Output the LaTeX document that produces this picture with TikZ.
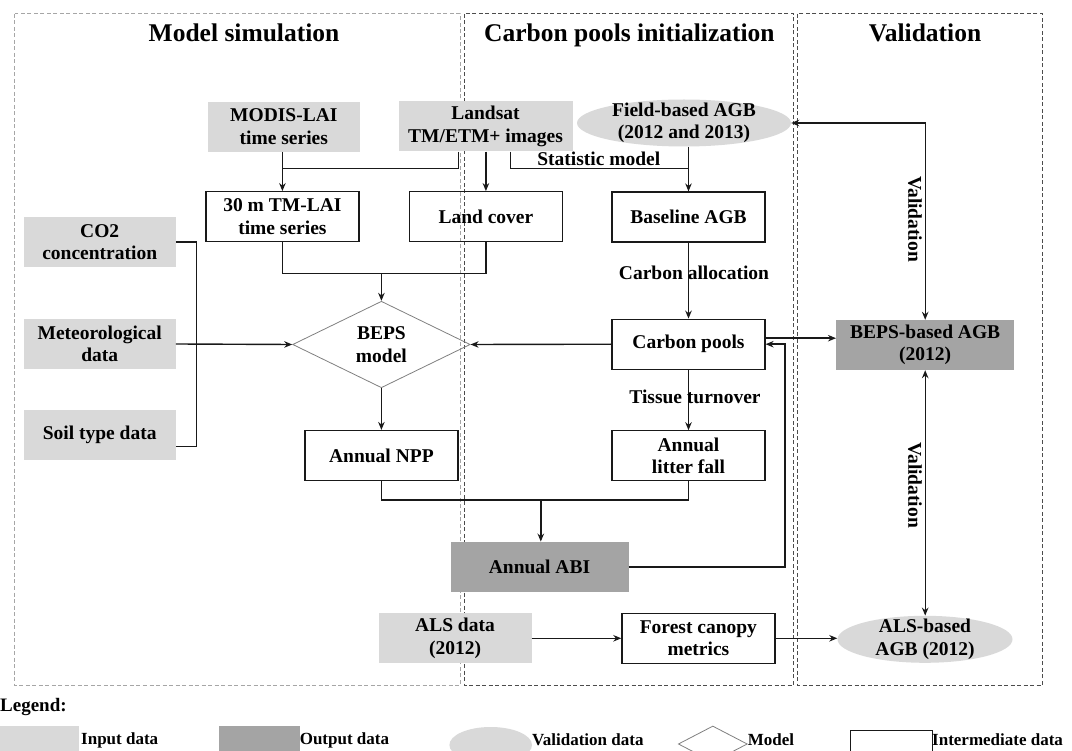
\documentclass[tikz,border=0pt]{standalone}
\usepackage{fontspec}
\setmainfont{Liberation Serif}
\usetikzlibrary{shapes.geometric,arrows.meta}
\definecolor{ingray}{RGB}{217,217,217}
\definecolor{outgray}{RGB}{164,164,164}
\definecolor{linecol}{RGB}{25,25,25}
\newcommand{\bodyfont}{\fontsize{19.5}{22.5}\selectfont\bfseries}
\newcommand{\titlefont}{\fontsize{25.5}{30}\selectfont\bfseries}
\newcommand{\legfont}{\fontsize{17}{20}\selectfont\bfseries}
\begin{document}
\begin{tikzpicture}[x=1pt,y=-1pt,
  inbox/.style={rectangle, fill=ingray, draw=none, minimum width=152pt, minimum height=50pt, inner sep=2pt, align=center, font=\bodyfont},
  outbox/.style={rectangle, fill=outgray, draw=none, minimum width=152pt, minimum height=50pt, inner sep=2pt, align=center, font=\bodyfont},
  midbox/.style={rectangle, draw=linecol, line width=1.2pt, minimum width=153pt, minimum height=50pt, inner sep=2pt, align=center, font=\bodyfont},
  valell/.style={ellipse, fill=ingray, draw=none, inner sep=0pt},
  modelshape/.style={diamond, draw=gray, line width=0.8pt, inner sep=0pt, align=center, font=\bodyfont},
  lbl/.style={inner sep=0pt, font=\bodyfont, align=center},
  legtext/.style={inner sep=0pt, font=\legfont, anchor=west},
  ttl/.style={inner sep=0pt, font=\titlefont, anchor=base},
  conn/.style={draw=linecol, line width=1.4pt},
  arr/.style={-{Stealth[length=8pt,width=6.5pt]}},
  darr/.style={{Stealth[length=8pt,width=6.5pt]}-{Stealth[length=8pt,width=6.5pt]}},
  panelA/.style={draw=gray!70, line width=1pt, dash pattern=on 4pt off 2.5pt},
  panelB/.style={draw=black!70, line width=1pt, dash pattern=on 4pt off 2.5pt}]
\useasboundingbox (0,0) rectangle (1072,751);
\clip (0,0) rectangle (1072,751);
\fill[white] (0,0) rectangle (1072,751);

% panels
\draw[panelA] (14.5,14) rectangle (460,685);
\draw[panelB] (464,14) rectangle (793.5,685);
\draw[panelB] (797.5,14) rectangle (1042.7,685);

% titles
\node[ttl] (t1) at (244,41.7) {Model simulation};
\node[ttl] (t2) at (629.4,41.7) {Carbon pools initialization};
\node[ttl] (t3) at (925,41.7) {Validation};

% nodes
\node[inbox] (modis) at (283.8,126.7) {MODIS-LAI\\time series};
\node[inbox, minimum width=174pt] (landsat) at (485.5,126.5) {Landsat\\TM/ETM+ images};
\node[valell, minimum width=214pt, minimum height=47pt,
      label={[lbl]center:{Field-based AGB\\(2012 and 2013)}}] (field) at (684,123) {};
\node[midbox] (tmlai) at (282.4,216.7) {30 m TM-LAI\\time series};
\node[midbox] (landcover) at (485.9,216.7) {Land cover};
\node[midbox] (baseline) at (688.5,217) {Baseline AGB};
\node[inbox] (co2) at (99.7,242) {CO2\\concentration};
\node[inbox] (met) at (99.7,344) {Meteorological\\data};
\node[inbox] (soil) at (99.7,434.7) {Soil type data};
\node[modelshape, minimum width=177.5pt, minimum height=74.4pt] (beps) at (381.4,344.5) {BEPS\\model};
\node[midbox] (npp) at (381.4,455.5) {Annual NPP};
\node[midbox] (carbon) at (688.5,344.2) {Carbon pools};
\node[midbox] (litter) at (688.5,455.8) {Annual\\litter fall};
\node[outbox, minimum width=178pt] (abi) at (539.5,566.8) {Annual ABI};
\node[outbox, minimum width=178pt] (bepsagb) at (925.2,345) {BEPS-based AGB\\(2012)};
\node[inbox, minimum width=153pt] (als) at (455,638.3) {ALS data\\(2012)};
\node[midbox] (forest) at (698.4,638.3) {Forest canopy\\metrics};
\node[valell, minimum width=175pt, minimum height=47pt,
      label={[lbl]center:{ALS-based\\AGB (2012)}}] (alsagb) at (925,639.3) {};

% connectors
\coordinate (j1) at (282.4,168.3);
\draw[conn] ([xshift=-27.2pt]landsat.south) |- (j1);
\draw[conn,arr] (modis.south -| tmlai.north) -- (tmlai.north);
\draw[conn,arr] (landsat.south -| landcover.north) -- (landcover.north);
\coordinate (j2) at (688.5,168.3);
\draw[conn] ([xshift=24.8pt]landsat.south) |- (j2);
\node[lbl, anchor=base] (statlbl) at (598.8,166) {Statistic model};
\draw[conn,arr] (field.south -| baseline.north) -- (baseline.north);

\coordinate (j3) at (381.4,273.3);
\draw[conn] (tmlai.south) |- (j3) -| (landcover.south);
\draw[conn,arr] (j3) -- (beps.north);

\coordinate (bx) at (196.3,0);
\draw[conn] (co2.east) -| ([yshift=-12pt]soil.east -| bx) -- ([yshift=-12pt]soil.east);
\draw[conn,arr] (met.east) -- (beps.west);
\draw[conn,arr] (carbon.west) -- (beps.east);
\draw[conn,arr] (beps.south) -- (npp.north);

\draw[conn,arr] (baseline.south) -- (carbon.north);
\node[lbl] (allocl) at (694,273.3) {Carbon allocation};
\draw[conn,arr] (carbon.south) -- (litter.north);
\node[lbl] (tissuel) at (695,396.7) {Tissue turnover};

\coordinate (j4) at (540.8,500);
\draw[conn] (npp.south) |- (j4) -| (litter.south);
\draw[conn,arr] (j4) -- (j4 |- abi.north);

\coordinate (lx) at (785,0);
\draw[conn,arr] (abi.east) -| (lx |- carbon.east) -- (carbon.east);
\draw[conn,arr] ([yshift=6pt]carbon.east) -- ([yshift=6pt]carbon.east -| bepsagb.west);

\draw[conn,darr] (field.east) -| (bepsagb.north);
\node[lbl, rotate=-90] (val1) at (915,219) {Validation};
\draw[conn,darr] (bepsagb.south) -- (bepsagb.south |- alsagb.north);
\node[lbl, rotate=-90] (val2) at (915,485) {Validation};

\draw[conn,arr] (als.east) -- (als.east -| forest.west);
\draw[conn,arr] (forest.east) -- (forest.east -| alsagb.west);

% legend
\node[legtext, anchor=base west, font=\fontsize{19}{22}\selectfont\bfseries] (leg) at (0,711) {Legend:};
\node[inbox, minimum width=78.5pt, minimum height=32pt, anchor=north west, inner sep=0pt] (lin) at (0,726) {};
\node[legtext] (lintext) at (81,740) {Input data};
\node[outbox, minimum width=80.6pt, minimum height=32pt, anchor=north west, inner sep=0pt] (lout) at (219,726) {};
\node[legtext] (louttext) at (299.6,740) {Output data};
\node[valell, minimum width=82.6pt, minimum height=36pt] (lval) at (490.7,745) {};
\node[legtext] (lvaltext) at (532,740) {Validation data};
\node[modelshape, minimum width=69pt, minimum height=36pt] (lmod) at (712.8,744) {};
\node[legtext] (lmodtext) at (lmod.east |- lvaltext.west) {Model};
\node[midbox, minimum width=82.5pt, minimum height=30pt, anchor=north west, inner sep=0pt] (lmid) at (849.5,730) {};
\node[legtext] (lmidtext) at (932,740) {Intermediate data};
\end{tikzpicture}
\end{document}
